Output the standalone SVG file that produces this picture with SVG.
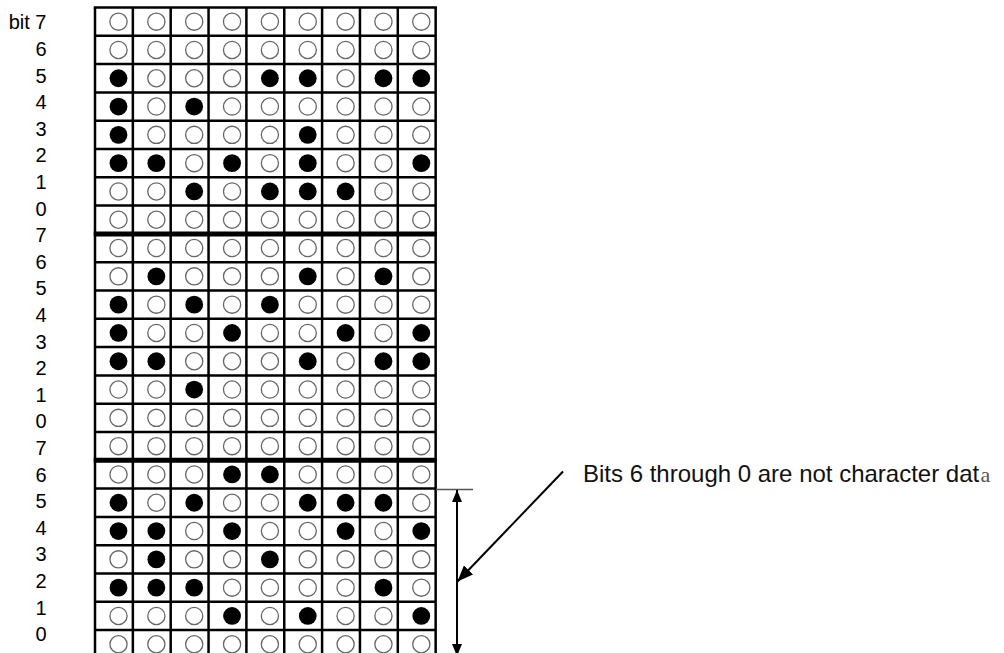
<svg xmlns="http://www.w3.org/2000/svg" xmlns:xlink="http://www.w3.org/1999/xlink" width="1004" height="653" viewBox="0 0 1004 653">
<style>
.lbl{font-family:"Liberation Sans",Arial,sans-serif;font-size:20px;fill:#000;text-anchor:end}
.grid{stroke:#000;stroke-width:2.5;fill:none}
.thick{stroke:#000;stroke-width:5}
.o{fill:#fff;stroke:#666;stroke-width:1.3}
.f{fill:#000;stroke:none}
.conn{stroke:#000;stroke-width:2;fill:none}
.note{font-family:"Liberation Sans",Arial,sans-serif;font-size:24px;fill:#111}
.tail{font-family:"Liberation Serif","Times New Roman",serif;font-size:22px;fill:#555}
</style>
<defs>
<circle id="o" class="o" r="8.6"/>
<circle id="f" class="f" r="8.9"/>
<marker id="ah" markerUnits="userSpaceOnUse" markerWidth="12" markerHeight="10" refX="12" refY="5" orient="auto-start-reverse" viewBox="0 0 12 10">
<path d="M0,0 L12,5 L0,10 z" fill="#000"/>
</marker>
<marker id="ahBig" markerUnits="userSpaceOnUse" markerWidth="16" markerHeight="13" refX="16" refY="6.5" orient="auto" viewBox="0 0 16 13">
<path d="M0,0 L16,6.5 L0,13 z" fill="#000"/>
</marker>
</defs>
<rect width="1004" height="653" fill="#fff"/>

<g id="labels">
<text class="lbl" x="46.5" y="29.3">bit 7</text>
<text class="lbl" x="46.5" y="55.9">6</text>
<text class="lbl" x="46.5" y="82.5">5</text>
<text class="lbl" x="46.5" y="109.1">4</text>
<text class="lbl" x="46.5" y="135.7">3</text>
<text class="lbl" x="46.5" y="162.3">2</text>
<text class="lbl" x="46.5" y="188.9">1</text>
<text class="lbl" x="46.5" y="215.5">0</text>
<text class="lbl" x="46.5" y="242.1">7</text>
<text class="lbl" x="46.5" y="268.7">6</text>
<text class="lbl" x="46.5" y="295.3">5</text>
<text class="lbl" x="46.5" y="321.9">4</text>
<text class="lbl" x="46.5" y="348.5">3</text>
<text class="lbl" x="46.5" y="375.1">2</text>
<text class="lbl" x="46.5" y="401.7">1</text>
<text class="lbl" x="46.5" y="428.3">0</text>
<text class="lbl" x="46.5" y="454.9">7</text>
<text class="lbl" x="46.5" y="481.5">6</text>
<text class="lbl" x="46.5" y="508.1">5</text>
<text class="lbl" x="46.5" y="534.7">4</text>
<text class="lbl" x="46.5" y="561.3">3</text>
<text class="lbl" x="46.5" y="587.9">2</text>
<text class="lbl" x="46.5" y="614.5">1</text>
<text class="lbl" x="46.5" y="641.1">0</text>
</g>

<g id="grid">
<path class="grid" d="M95,7.5V665 M132.85,7.5V665 M170.7,7.5V665 M208.55,7.5V665 M246.4,7.5V665 M284.25,7.5V665 M322.1,7.5V665 M359.95,7.5V665 M397.8,7.5V665 M435.65,7.5V665"/>
<path class="grid" d="M93.75,7.5H436.9 M95,35.8H435.65 M95,64.1H435.65 M95,92.4H435.65 M95,120.7H435.65 M95,149H435.65 M95,177.3H435.65 M95,205.6H435.65 M95,262.2H435.65 M95,290.5H435.65 M95,318.8H435.65 M95,347.1H435.65 M95,375.4H435.65 M95,403.7H435.65 M95,432H435.65 M95,488.6H435.65 M95,516.9H435.65 M95,545.2H435.65 M95,573.5H435.65 M95,601.8H435.65 M95,630.1H435.65"/>
<path class="thick" d="M93.75,233.9H436.9 M93.75,460.3H436.9"/>
</g>

<g id="cells">
<g id="row0" transform="translate(0,21.65)"><use href="#o" x="118.5"/><use href="#o" x="156.35"/><use href="#o" x="194.2"/><use href="#o" x="232.05"/><use href="#o" x="269.9"/><use href="#o" x="307.75"/><use href="#o" x="345.6"/><use href="#o" x="383.45"/><use href="#o" x="421.3"/></g>
<g id="row1" transform="translate(0,49.95)"><use href="#o" x="118.5"/><use href="#o" x="156.35"/><use href="#o" x="194.2"/><use href="#o" x="232.05"/><use href="#o" x="269.9"/><use href="#o" x="307.75"/><use href="#o" x="345.6"/><use href="#o" x="383.45"/><use href="#o" x="421.3"/></g>
<g id="row2" transform="translate(0,78.25)"><use href="#f" x="118.5"/><use href="#o" x="156.35"/><use href="#o" x="194.2"/><use href="#o" x="232.05"/><use href="#f" x="269.9"/><use href="#f" x="307.75"/><use href="#o" x="345.6"/><use href="#f" x="383.45"/><use href="#f" x="421.3"/></g>
<g id="row3" transform="translate(0,106.55)"><use href="#f" x="118.5"/><use href="#o" x="156.35"/><use href="#f" x="194.2"/><use href="#o" x="232.05"/><use href="#o" x="269.9"/><use href="#o" x="307.75"/><use href="#o" x="345.6"/><use href="#o" x="383.45"/><use href="#o" x="421.3"/></g>
<g id="row4" transform="translate(0,134.85)"><use href="#f" x="118.5"/><use href="#o" x="156.35"/><use href="#o" x="194.2"/><use href="#o" x="232.05"/><use href="#o" x="269.9"/><use href="#f" x="307.75"/><use href="#o" x="345.6"/><use href="#o" x="383.45"/><use href="#o" x="421.3"/></g>
<g id="row5" transform="translate(0,163.15)"><use href="#f" x="118.5"/><use href="#f" x="156.35"/><use href="#o" x="194.2"/><use href="#f" x="232.05"/><use href="#o" x="269.9"/><use href="#f" x="307.75"/><use href="#o" x="345.6"/><use href="#o" x="383.45"/><use href="#f" x="421.3"/></g>
<g id="row6" transform="translate(0,191.45)"><use href="#o" x="118.5"/><use href="#o" x="156.35"/><use href="#f" x="194.2"/><use href="#o" x="232.05"/><use href="#f" x="269.9"/><use href="#f" x="307.75"/><use href="#f" x="345.6"/><use href="#o" x="383.45"/><use href="#o" x="421.3"/></g>
<g id="row7" transform="translate(0,219.75)"><use href="#o" x="118.5"/><use href="#o" x="156.35"/><use href="#o" x="194.2"/><use href="#o" x="232.05"/><use href="#o" x="269.9"/><use href="#o" x="307.75"/><use href="#o" x="345.6"/><use href="#o" x="383.45"/><use href="#o" x="421.3"/></g>
<g id="row8" transform="translate(0,248.05)"><use href="#o" x="118.5"/><use href="#o" x="156.35"/><use href="#o" x="194.2"/><use href="#o" x="232.05"/><use href="#o" x="269.9"/><use href="#o" x="307.75"/><use href="#o" x="345.6"/><use href="#o" x="383.45"/><use href="#o" x="421.3"/></g>
<g id="row9" transform="translate(0,276.35)"><use href="#o" x="118.5"/><use href="#f" x="156.35"/><use href="#o" x="194.2"/><use href="#o" x="232.05"/><use href="#o" x="269.9"/><use href="#f" x="307.75"/><use href="#o" x="345.6"/><use href="#f" x="383.45"/><use href="#o" x="421.3"/></g>
<g id="row10" transform="translate(0,304.65)"><use href="#f" x="118.5"/><use href="#o" x="156.35"/><use href="#f" x="194.2"/><use href="#o" x="232.05"/><use href="#f" x="269.9"/><use href="#o" x="307.75"/><use href="#o" x="345.6"/><use href="#o" x="383.45"/><use href="#o" x="421.3"/></g>
<g id="row11" transform="translate(0,332.95)"><use href="#f" x="118.5"/><use href="#o" x="156.35"/><use href="#o" x="194.2"/><use href="#f" x="232.05"/><use href="#o" x="269.9"/><use href="#o" x="307.75"/><use href="#f" x="345.6"/><use href="#o" x="383.45"/><use href="#f" x="421.3"/></g>
<g id="row12" transform="translate(0,361.25)"><use href="#f" x="118.5"/><use href="#f" x="156.35"/><use href="#o" x="194.2"/><use href="#o" x="232.05"/><use href="#o" x="269.9"/><use href="#f" x="307.75"/><use href="#o" x="345.6"/><use href="#f" x="383.45"/><use href="#f" x="421.3"/></g>
<g id="row13" transform="translate(0,389.55)"><use href="#o" x="118.5"/><use href="#o" x="156.35"/><use href="#f" x="194.2"/><use href="#o" x="232.05"/><use href="#o" x="269.9"/><use href="#o" x="307.75"/><use href="#o" x="345.6"/><use href="#o" x="383.45"/><use href="#o" x="421.3"/></g>
<g id="row14" transform="translate(0,417.85)"><use href="#o" x="118.5"/><use href="#o" x="156.35"/><use href="#o" x="194.2"/><use href="#o" x="232.05"/><use href="#o" x="269.9"/><use href="#o" x="307.75"/><use href="#o" x="345.6"/><use href="#o" x="383.45"/><use href="#o" x="421.3"/></g>
<g id="row15" transform="translate(0,446.15)"><use href="#o" x="118.5"/><use href="#o" x="156.35"/><use href="#o" x="194.2"/><use href="#o" x="232.05"/><use href="#o" x="269.9"/><use href="#o" x="307.75"/><use href="#o" x="345.6"/><use href="#o" x="383.45"/><use href="#o" x="421.3"/></g>
<g id="row16" transform="translate(0,474.45)"><use href="#o" x="118.5"/><use href="#o" x="156.35"/><use href="#o" x="194.2"/><use href="#f" x="232.05"/><use href="#f" x="269.9"/><use href="#o" x="307.75"/><use href="#o" x="345.6"/><use href="#o" x="383.45"/><use href="#o" x="421.3"/></g>
<g id="row17" transform="translate(0,502.75)"><use href="#f" x="118.5"/><use href="#o" x="156.35"/><use href="#f" x="194.2"/><use href="#o" x="232.05"/><use href="#o" x="269.9"/><use href="#f" x="307.75"/><use href="#f" x="345.6"/><use href="#f" x="383.45"/><use href="#o" x="421.3"/></g>
<g id="row18" transform="translate(0,531.05)"><use href="#f" x="118.5"/><use href="#f" x="156.35"/><use href="#o" x="194.2"/><use href="#f" x="232.05"/><use href="#o" x="269.9"/><use href="#o" x="307.75"/><use href="#f" x="345.6"/><use href="#o" x="383.45"/><use href="#f" x="421.3"/></g>
<g id="row19" transform="translate(0,559.35)"><use href="#o" x="118.5"/><use href="#f" x="156.35"/><use href="#o" x="194.2"/><use href="#o" x="232.05"/><use href="#f" x="269.9"/><use href="#o" x="307.75"/><use href="#o" x="345.6"/><use href="#o" x="383.45"/><use href="#o" x="421.3"/></g>
<g id="row20" transform="translate(0,587.65)"><use href="#f" x="118.5"/><use href="#f" x="156.35"/><use href="#f" x="194.2"/><use href="#o" x="232.05"/><use href="#o" x="269.9"/><use href="#o" x="307.75"/><use href="#o" x="345.6"/><use href="#f" x="383.45"/><use href="#o" x="421.3"/></g>
<g id="row21" transform="translate(0,615.95)"><use href="#o" x="118.5"/><use href="#o" x="156.35"/><use href="#o" x="194.2"/><use href="#f" x="232.05"/><use href="#o" x="269.9"/><use href="#f" x="307.75"/><use href="#o" x="345.6"/><use href="#o" x="383.45"/><use href="#f" x="421.3"/></g>
<g id="row22" transform="translate(0,644.25)"><use href="#o" x="118.5"/><use href="#o" x="156.35"/><use href="#o" x="194.2"/><use href="#o" x="232.05"/><use href="#o" x="269.9"/><use href="#o" x="307.75"/><use href="#o" x="345.6"/><use href="#o" x="383.45"/><use href="#o" x="421.3"/></g>
</g>

<g id="connectors">
<line x1="436" y1="489.5" x2="473" y2="489.5" stroke="#555" stroke-width="1.4"/>
<line class="conn" x1="457" y1="490" x2="457" y2="656" marker-start="url(#ah)" marker-end="url(#ah)"/>
<line class="conn" x1="563" y1="471.5" x2="457.5" y2="581.5" marker-end="url(#ahBig)"/>
</g>

<g id="note">
<text class="note" x="583" y="481.7">Bits 6 through 0 are not character dat</text>
<text class="tail" x="980.5" y="481.7">a</text>
</g>
</svg>
